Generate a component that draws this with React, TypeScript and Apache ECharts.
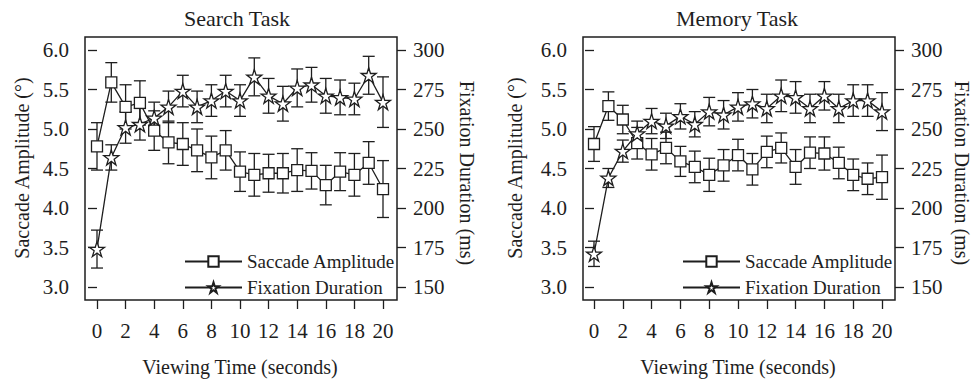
import React, { useEffect, useRef } from 'react';
import * as echarts from 'echarts';

const viewingTime = [0, 1, 2, 3, 4, 5, 6, 7, 8, 9, 10, 11, 12, 13, 14, 15, 16, 17, 18, 19, 20];

const searchAmp = [4.78, 5.59, 5.28, 5.33, 4.98, 4.83, 4.81, 4.73, 4.64, 4.73, 4.46, 4.42, 4.44, 4.44, 4.48, 4.47, 4.29, 4.46, 4.42, 4.57, 4.24];
const searchAmpErr = [0.3, 0.25, 0.28, 0.28, 0.25, 0.27, 0.27, 0.27, 0.27, 0.25, 0.25, 0.27, 0.24, 0.25, 0.27, 0.23, 0.25, 0.24, 0.27, 0.27, 0.36];
const searchFix = [174, 232, 251, 253, 257, 264, 274, 264, 268, 274, 268, 283, 271, 266, 276, 278, 271, 270, 269, 284, 267];
const searchFixErr = [12, 8, 10, 10, 10, 10, 10, 10, 10, 10, 10, 12, 11, 11, 12, 11, 11, 11, 10, 12, 16];

const memoryAmp = [4.81, 5.29, 5.12, 4.82, 4.68, 4.76, 4.59, 4.52, 4.42, 4.54, 4.67, 4.49, 4.71, 4.76, 4.52, 4.7, 4.69, 4.57, 4.42, 4.37, 4.39];
const memoryAmpErr = [0.22, 0.18, 0.18, 0.2, 0.2, 0.2, 0.19, 0.2, 0.21, 0.2, 0.2, 0.2, 0.2, 0.19, 0.22, 0.2, 0.21, 0.2, 0.2, 0.2, 0.28];
const memoryFix = [171, 219, 236, 247, 255, 252, 258, 253, 261, 259, 264, 266, 263, 271, 270, 263, 271, 263, 268, 268, 261];
const memoryFixErr = [8, 6, 7, 8, 8, 8, 8, 8, 9, 9, 9, 9, 9, 10, 10, 9, 9, 9, 10, 10, 12];

const ampTicks = { min: 3, max: 6, interval: 0.5 };
const fixTicks = { min: 150, max: 300, interval: 25 };
const timeTicks = { min: 0, max: 20, interval: 2 };

const panelTitles = ['Search Task', 'Memory Task'];
const seriesNames = ['Saccade Amplitude', 'Fixation Duration'];
const xAxisTitle = 'Viewing Time (seconds)';
const ampAxisTitle = 'Saccade Amplitude (°)';
const fixAxisTitle = 'Fixation Duration (ms)';

const FONT = "'Liberation Serif', 'Times New Roman', serif";
const INK = '#1e1e1e';
const STAR =
  'path://M50,2 L61.2,36.5 L97.5,36.5 L68.1,57.8 L79.4,92.3 L50,71 L20.6,92.3 L31.9,57.8 L2.5,36.5 L38.8,36.5 Z';

const errorSeries = (xi: number, yi: number, vals: number[], errs: number[]) => ({
  type: 'custom',
  name: 'err' + xi + '-' + yi,
  xAxisIndex: xi,
  yAxisIndex: yi,
  z: 1,
  data: viewingTime.map((t, i) => [t, vals[i] - errs[i], vals[i] + errs[i]]),
  encode: { x: 0, y: [1, 2] },
  renderItem: (params: any, api: any) => {
    const x = api.value(0);
    const lo = api.coord([x, api.value(1)]);
    const hi = api.coord([x, api.value(2)]);
    const w = 6;
    const st = { stroke: INK, lineWidth: 1.3 };
    return {
      type: 'group',
      children: [
        { type: 'line', shape: { x1: lo[0], y1: lo[1], x2: hi[0], y2: hi[1] }, style: st },
        { type: 'line', shape: { x1: lo[0] - w, y1: lo[1], x2: lo[0] + w, y2: lo[1] }, style: st },
        { type: 'line', shape: { x1: hi[0] - w, y1: hi[1], x2: hi[0] + w, y2: hi[1] }, style: st },
      ],
    };
  },
});

const lineSeries = (name: string, xi: number, yi: number, vals: number[], symbol: string, size: number) => ({
  type: 'line',
  name,
  xAxisIndex: xi,
  yAxisIndex: yi,
  z: 2,
  data: viewingTime.map((t, i) => [t, vals[i]]),
  symbol,
  symbolSize: size,
  showSymbol: true,
  lineStyle: { color: INK, width: 1.3 },
  itemStyle: { color: '#ffffff', borderColor: INK, borderWidth: 1.3 },
});

const labelStyle = { fontFamily: FONT, fontSize: 21, color: INK };
const tickStyle = { show: true, inside: false, length: 9, lineStyle: { color: INK, width: 1.3 } };

const yAxis = (gi: number, pos: 'left' | 'right', offset: number, t: any, fmt: (v: number) => string) => ({
  type: 'value',
  gridIndex: gi,
  position: pos,
  offset,
  min: t.min,
  max: t.max,
  interval: t.interval,
  axisLine: { show: false },
  axisTick: tickStyle,
  splitLine: { show: false },
  axisLabel: { ...labelStyle, margin: 16, formatter: fmt },
});

const xAxis = (gi: number) => ({
  type: 'value',
  gridIndex: gi,
  position: 'bottom',
  offset: 13,
  min: timeTicks.min,
  max: timeTicks.max,
  interval: timeTicks.interval,
  axisLine: { show: false },
  axisTick: tickStyle,
  splitLine: { show: false },
  axisLabel: { ...labelStyle, margin: 20 },
});

const txt = (text: string, x: number, y: number, rotation = 0, size = 20) => ({
  type: 'text',
  x,
  y,
  rotation,
  style: { text, fontFamily: FONT, fontSize: size, fill: INK, align: 'center', verticalAlign: 'middle' },
});

const box = (x: number, y: number, w: number, h: number) => ({
  type: 'rect',
  shape: { x, y, width: w, height: h },
  style: { fill: 'none', stroke: INK, lineWidth: 1.5 },
  z: 10,
});

const legend = (left: number) => ({
  orient: 'vertical',
  left,
  top: 247,
  itemWidth: 57,
  itemHeight: 13,
  itemGap: 7,
  selectedMode: false,
  data: seriesNames,
  textStyle: { fontFamily: FONT, fontSize: 19, color: INK, lineHeight: 19, padding: [0, 0, 0, 0] },
});

export default function App() {
  const ref = useRef<HTMLDivElement>(null);
  useEffect(() => {
    if (!ref.current) return;
    const chart = echarts.init(ref.current, null, { renderer: 'svg' });
    const f1 = (v: number) => v.toFixed(1);
    const f0 = (v: number) => String(v);
    chart.setOption({
      animation: false,
      backgroundColor: '#ffffff',
      grid: [
        { left: 97, right: 977 - 383, top: 50, bottom: 384 - 287, show: false },
        { left: 594, right: 977 - 882, top: 50, bottom: 384 - 287, show: false },
      ],
      xAxis: [xAxis(0), xAxis(1)],
      yAxis: [
        yAxis(0, 'left', 12, ampTicks, f1),
        yAxis(0, 'right', 14, fixTicks, f0),
        yAxis(1, 'left', 11, ampTicks, f1),
        yAxis(1, 'right', 13, fixTicks, f0),
      ],
      legend: [legend(179), legend(677)],
      series: [
        errorSeries(0, 0, searchAmp, searchAmpErr),
        errorSeries(0, 1, searchFix, searchFixErr),
        errorSeries(1, 2, memoryAmp, memoryAmpErr),
        errorSeries(1, 3, memoryFix, memoryFixErr),
        lineSeries(seriesNames[0], 0, 0, searchAmp, 'rect', 11),
        lineSeries(seriesNames[1], 0, 1, searchFix, STAR, 15),
        lineSeries(seriesNames[0], 1, 2, memoryAmp, 'rect', 11),
        lineSeries(seriesNames[1], 1, 3, memoryFix, STAR, 15),
      ],
      graphic: [
        box(85, 37, 312, 263),
        box(583, 37, 312, 263),
        txt(panelTitles[0], 237, 18, 0, 22),
        txt(panelTitles[1], 737, 18, 0, 22),
        txt(xAxisTitle, 240, 367),
        txt(xAxisTitle, 738, 367),
        txt(ampAxisTitle, 22, 168, Math.PI / 2),
        txt(fixAxisTitle, 467, 173, -Math.PI / 2),
        txt(ampAxisTitle, 515, 168, Math.PI / 2),
        txt(fixAxisTitle, 962, 173, -Math.PI / 2),
      ],
    });
    return () => chart.dispose();
  }, []);
  return <div ref={ref} style={{ position: 'fixed', left: 0, top: 0, width: 977, height: 384 }} />;
}
